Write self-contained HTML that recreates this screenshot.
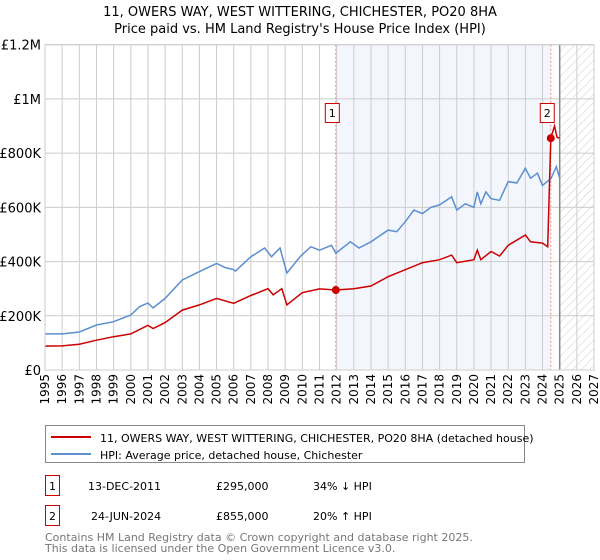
<!DOCTYPE html>
<html><head><meta charset="utf-8"><style>
body{margin:0;background:#fff;font-family:"DejaVu Sans","Liberation Sans",sans-serif;}
svg{display:block}
</style></head><body>
<svg id="chart" width="600" height="560" xmlns="http://www.w3.org/2000/svg" font-family="DejaVu Sans, Liberation Sans, sans-serif">
<defs><pattern id="hatch" width="6" height="6" patternUnits="userSpaceOnUse" patternTransform="rotate(45)"><line x1="0" y1="0" x2="0" y2="6" stroke="#ccc" stroke-width="1"/></pattern></defs>
<text x="300" y="16" text-anchor="middle" font-size="13">11, OWERS WAY, WEST WITTERING, CHICHESTER, PO20 8HA</text>
<text x="300" y="33" text-anchor="middle" font-size="13">Price paid vs. HM Land Registry's House Price Index (HPI)</text>
<g id="plot"></g>
<g>
<rect x="45.5" y="425.5" width="479" height="37" fill="#fff" stroke="#888"/>
<line x1="51" y1="437" x2="91" y2="437" stroke="#cc0000" stroke-width="2"/>
<text x="100" y="442" font-size="11">11, OWERS WAY, WEST WITTERING, CHICHESTER, PO20 8HA (detached house)</text>
<line x1="51" y1="454" x2="91" y2="454" stroke="#5b8fd0" stroke-width="2"/>
<text x="100" y="459" font-size="11">HPI: Average price, detached house, Chichester</text>
</g>
<g font-size="11">
<rect x="45.5" y="475.5" width="14" height="20" fill="#fff" stroke="#cc0000"/>
<text x="52.5" y="490" text-anchor="middle">1</text>
<text x="88" y="490">13-DEC-2011</text><text x="216" y="490">£295,000</text><text x="313" y="490">34% ↓ HPI</text>
</g>
<g font-size="11">
<rect x="45.5" y="505.5" width="14" height="20" fill="#fff" stroke="#cc0000"/>
<text x="52.5" y="520" text-anchor="middle">2</text>
<text x="91" y="520">24-JUN-2024</text><text x="216" y="520">£855,000</text><text x="313" y="520">20% ↑ HPI</text>
</g>
<text x="45" y="541" font-size="11" fill="#777">Contains HM Land Registry data © Crown copyright and database right 2025.</text>
<text x="45" y="552" font-size="11" fill="#777">This data is licensed under the Open Government Licence v3.0.</text>
</svg>
<script>
const yTicks=[0,200000,400000,600000,800000,1000000,1200000];
const yTickLabels=["£0","£200K","£400K","£600K","£800K","£1M","£1.2M"];
const hpiT=[1995,1996,1997,1998,1999,2000,2000.5,2001,2001.3,2002,2003,2004,2005,2005.5,2006,2006.1,2007,2007.8,2008.2,2008.7,2009.1,2009.9,2010.5,2011,2011.7,2011.95,2012.8,2013.3,2014,2015,2015.5,2016,2016.5,2017,2017.5,2018,2018.7,2019,2019.5,2020,2020.2,2020.4,2020.7,2021,2021.5,2022,2022.5,2023,2023.3,2023.7,2024,2024.5,2024.8,2025];
const hpiV=[133,133,140,166,178,203,233,247,229,264,332,363,393,378,370,365,418,450,418,450,358,420,455,442,460,431,473,450,473,516,510,547,590,577,600,609,639,590,613,600,657,613,657,632,626,695,690,744,707,726,681,707,750,707];
const redT=[1995,1996,1997,1998,1999,2000,2001,2001.3,2002,2003,2004,2005,2006,2007,2008,2008.3,2008.8,2009.1,2010,2011,2011.95,2013,2014,2015,2016,2017,2018,2018.7,2019,2020,2020.2,2020.4,2021,2021.5,2022,2023,2023.3,2024,2024.3,2024.48,2024.7,2024.85,2025];
const redV=[88,89,95,110,123,133,165,153,175,221,240,264,246,275,300,277,300,240,285,299,295,300,310,344,370,396,407,424,396,407,442,407,437,420,460,498,473,468,455,855,900,858,855];
const sales=[[2011.95,295],[2024.48,855]];
const xTicks=[];for(let y=1995;y<=2027;y++)xTicks.push(y);
const X0=45,X1=594,Y0=370,Y1=44.7;
const xs=t=>X0+(t-1995)/(2027-1995)*(X1-X0);
const ys=v=>Y0-v/1200000*(Y0-Y1);
const NS="http://www.w3.org/2000/svg";
const g=document.getElementById('plot');
function mk(tag,at,parent){const e=document.createElementNS(NS,tag);for(const k in at)e.setAttribute(k,at[k]);(parent||g).appendChild(e);return e;}
let e=mk('rect',{x:xs(2011.95),y:Y1,width:xs(2024.48)-xs(2011.95),height:Y0-Y1,fill:'#eef3fc',opacity:0.7});


e=mk('rect',{x:xs(2025),y:Y1,width:xs(2027)-xs(2025),height:Y0-Y1,fill:'url(#hatch)'});


xTicks.forEach(t=>{const l=mk('line',{x1:xs(t),x2:xs(t),y1:Y1,y2:Y0,stroke:'#ccc','stroke-width':1});


const tx=mk('text',{x:0,y:0,'font-size':12,transform:`translate(${xs(t)+4},${Y0+4}) rotate(-90)`,'text-anchor':'end'});tx.textContent=t;

});
yTicks.forEach((v,i)=>{const l=mk('line',{x1:X0,x2:X1,y1:ys(v),y2:ys(v),stroke:'#ccc','stroke-width':1});


const tx=mk('text',{x:X0-4,y:ys(v)+5,'font-size':13,'text-anchor':'end'});tx.textContent=yTickLabels[i];

});
e=mk('line',{x1:xs(2025),x2:xs(2025),y1:Y1,y2:Y0,stroke:'#888','stroke-width':1.5});


sales.forEach((s,i)=>{const l=mk('line',{x1:xs(s[0]),x2:xs(s[0]),y1:Y1,y2:Y0,stroke:'#e88','stroke-width':1,'stroke-dasharray':'2,2'});

});
const path=(T,V)=>T.map((t,i)=>(i?'L':'M')+xs(t).toFixed(1)+','+ys(V[i]*1000).toFixed(1)).join('');
e=mk('path',{d:path(hpiT,hpiV),fill:'none',stroke:'#5b8fd0','stroke-width':1.5});


e=mk('path',{d:path(redT,redV),fill:'none',stroke:'#cc0000','stroke-width':1.5});


sales.forEach((s,i)=>{const c=mk('circle',{cx:xs(s[0]),cy:ys(s[1]*1000),r:4,fill:'#cc0000'});


const bx=xs(s[0])-3.5, by=113;
const r=mk('rect',{x:bx-7,y:by-9.5,width:14,height:19,fill:'#fff',stroke:'#cc0000'});


const t=mk('text',{x:bx,y:by+4,'font-size':11,'text-anchor':'middle'});t.textContent=String(i+1);

});
e=mk('rect',{x:X0,y:Y1,width:X1-X0,height:Y0-Y1,fill:'none',stroke:'#ccc'});


</script>
</body></html>
